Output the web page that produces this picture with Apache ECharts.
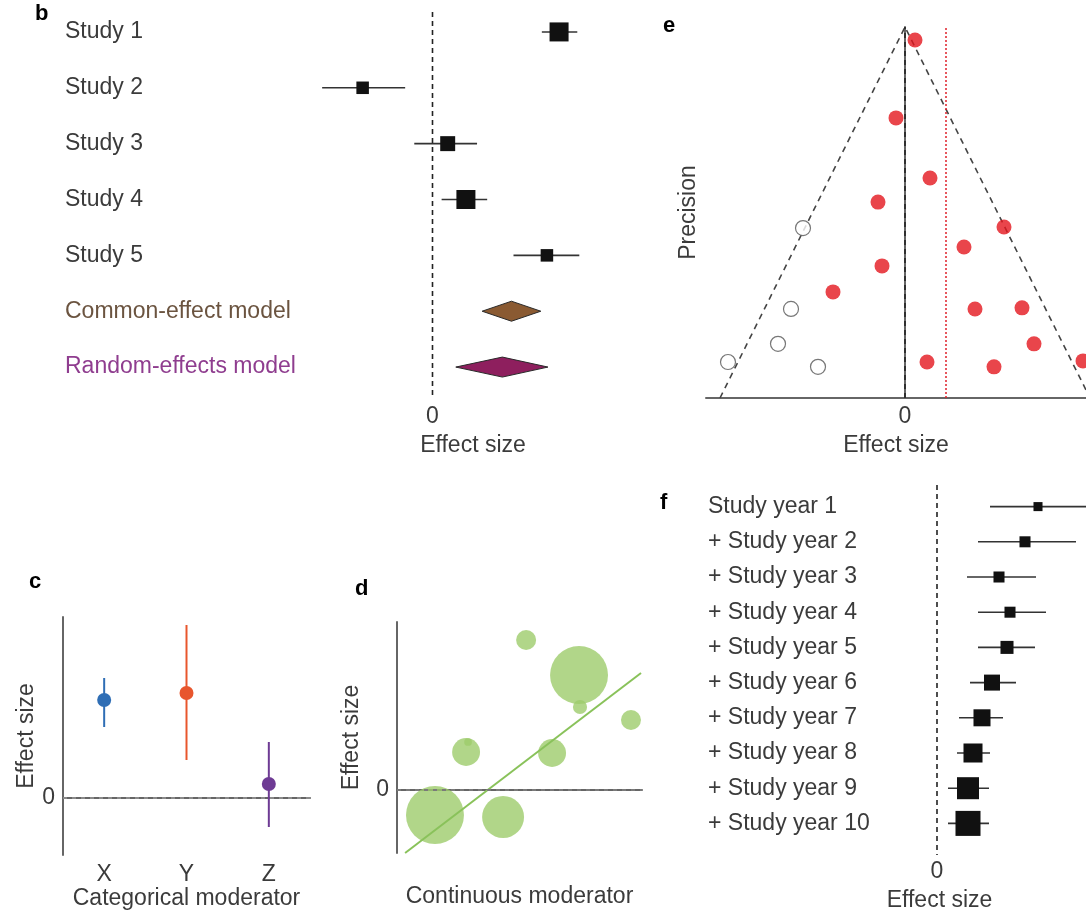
<!DOCTYPE html>
<html>
<head>
<meta charset="utf-8">
<script src="https://cdn.jsdelivr.net/npm/echarts@6/dist/echarts.min.js"></script>
<style>
html,body{margin:0;padding:0;background:#fff;}
#chart{width:1086px;height:913px;}
</style>
</head>
<body>
<div id="chart"></div>
<script>
// ---------- Panel b: forest plot ----------
const studiesB = ['Study 1','Study 2','Study 3','Study 4','Study 5','Common-effect model','Random-effects model'];
const estB = [1.25, -0.69, 0.15, 0.33, 1.13];
const loB = [1.08, -1.09, -0.18, 0.09, 0.80];
const hiB = [1.43, -0.27, 0.44, 0.54, 1.45];
const weightB = [22.6, 9.8, 14, 22.6, 9.8];
const modelEstB = [0.78, 0.69];
const modelLoB = [0.49, 0.23];
const modelHiB = [1.07, 1.14];

// ---------- Panel e: funnel plot ----------
const obsX = [0.10, -0.09, 0.25, -0.27, 0.99, 0.59, -0.23, -0.72, 0.70, 1.17, 1.29, 0.22, 0.89, 1.78];
const obsP = [9.65, 7.55, 5.93, 5.28, 4.61, 4.07, 3.56, 2.86, 2.40, 2.43, 1.46, 0.97, 0.84, 1.00];
const filledX = [-1.02, -1.14, -1.27, -1.77, -0.87];
const filledP = [4.58, 2.40, 1.46, 0.97, 0.84];
const funnelX = [-1.85, 0, 1.85];
const funnelP = [0, 10, 0];
const adjustedMean = 0.41;

// ---------- Panel c: categorical moderator ----------
const catsC = ['X','Y','Z'];
const estC = [1.96, 2.10, 0.28];
const loC = [1.42, 0.76, -0.58];
const hiC = [2.40, 3.46, 1.12];

// ---------- Panel d: continuous moderator ----------
const modD = [5.27, 7.43, 7.47, 9.55, 2.82, 2.90, 6.33, 1.55, 4.33];
const effD = [3.00, 2.30, 1.66, 1.40, 0.76, 0.96, 0.74, -0.50, -0.54];
const weightD = [4.0, 33.6, 2.0, 4.0, 7.8, 0.6, 7.8, 33.6, 17.6];
const fitX = [0.33, 9.96];
const fitY = [-1.26, 2.34];

// ---------- Panel f: cumulative forest ----------
const yearsF = ['Study year 1','+ Study year 2','+ Study year 3','+ Study year 4','+ Study year 5',
  '+ Study year 6','+ Study year 7','+ Study year 8','+ Study year 9','+ Study year 10'];
const estF = [1.01, 0.88, 0.62, 0.73, 0.70, 0.55, 0.45, 0.36, 0.31, 0.31];
const loF = [0.53, 0.41, 0.30, 0.41, 0.41, 0.33, 0.22, 0.20, 0.11, 0.11];
const hiF = [1.60, 1.39, 0.99, 1.09, 0.98, 0.79, 0.66, 0.53, 0.52, 0.52];
const weightF = [5.1, 7.6, 7.6, 7.6, 10.6, 16, 18.1, 22.6, 30.3, 39.1];

// ---------- styles ----------
const FONT = '"Liberation Sans", Arial, Helvetica, sans-serif';
const FS = 23;
const TXT = '#3b3b3b';
const AX = {lineStyle:{color:'#666666', width:2}};
const modelColors = ['#8a5a32', '#8e1f5e'];
const catColors = ['#2f6eb5', '#e8562d', '#6e3b94'];

const chart = echarts.init(document.getElementById('chart'), null, {renderer:'canvas'});

function forestItem(params, api) {
  const r = api.value(0), est = api.value(1), lo = api.value(2), hi = api.value(3), w = api.value(4);
  const c = api.coord([est, r]), l = api.coord([lo, r]), h = api.coord([hi, r]);
  const s = 4 * Math.sqrt(w);
  return {type:'group', children:[
    {type:'line', shape:{x1:l[0], y1:c[1], x2:h[0], y2:c[1]}, style:{stroke:'#333', lineWidth:1.6}},
    {type:'rect', shape:{x:c[0]-s/2, y:c[1]-s/2, width:s, height:s}, style:{fill:'#111'}}
  ]};
}
function diamondItem(params, api) {
  const r = api.value(0), est = api.value(1), lo = api.value(2), hi = api.value(3);
  const c = api.coord([est, r]), l = api.coord([lo, r]), h = api.coord([hi, r]);
  return {type:'polygon', shape:{points:[[l[0],c[1]],[c[0],c[1]-10],[h[0],c[1]],[c[0],c[1]+10]]},
    style:{fill:modelColors[params.dataIndex], stroke:'#2a2a2a', lineWidth:1}};
}
function zeroLine(extTop, extBottom) {
  return function(params, api) {
    const cs = params.coordSys;
    const x = api.coord([0, 0])[0];
    return {type:'line', shape:{x1:x, y1:cs.y + extTop, x2:x, y2:cs.y + cs.height + extBottom},
      style:{stroke:'#222', lineWidth:1.6, lineDash:[5,4]}};
  };
}
function errItem(params, api) {
  const i = api.value(0), est = api.value(1), lo = api.value(2), hi = api.value(3);
  const c = api.coord([i, est]), l = api.coord([i, lo]), h = api.coord([i, hi]);
  const col = catColors[params.dataIndex];
  return {type:'group', children:[
    {type:'line', shape:{x1:c[0], y1:l[1], x2:c[0], y2:h[1]}, style:{stroke:col, lineWidth:2}},
    {type:'circle', shape:{cx:c[0], cy:c[1], r:7}, style:{fill:col}}
  ]};
}

const rowLabel = (fmt) => ({
  align:'left', fontSize:FS, color:TXT, fontFamily:FONT, formatter: fmt,
  rich:{
    ce:{color:'#6b5440', fontSize:FS, fontFamily:FONT},
    re:{color:'#8f3d8f', fontSize:FS, fontFamily:FONT}
  }
});
const nameStyle = {fontSize:FS, color:TXT, fontFamily:FONT};
const zeroLabel = (margin) => ({customValues:[0], fontSize:FS, color:TXT, fontFamily:FONT, margin: margin, formatter: v => String(Math.round(v))});

const option = {
  backgroundColor:'#fff',
  animation:false,
  textStyle:{fontFamily:FONT},
  grid:[
    {left:311, top:4, width:324, height:391},
    {left:706, top:27, width:380, height:371},
    {left:63, top:617, width:247, height:238},
    {left:397, top:622, width:245, height:231},
    {left:793, top:489, width:293, height:353}
  ],
  xAxis:[
    {gridIndex:0, type:'value', min:-1.2, max:2.0, offset:3, axisLine:AX, axisTick:{show:false},
      splitLine:{show:false}, axisLabel:zeroLabel(7),
      name:'Effect size', nameLocation:'middle', nameGap:36, nameTextStyle:nameStyle},
    {gridIndex:1, type:'value', min:-1.99, max:1.81, axisLine:AX, axisTick:{show:false},
      splitLine:{show:false}, axisLabel:zeroLabel(7),
      name:'Effect size', nameLocation:'middle', nameGap:36, nameTextStyle:nameStyle},
    {gridIndex:2, type:'category', data:catsC, axisLine:AX, axisTick:{show:false},
      axisLabel:{fontSize:FS, color:TXT, fontFamily:FONT, margin:8},
      name:'Categorical moderator', nameLocation:'middle', nameGap:30, nameTextStyle:nameStyle},
    {gridIndex:3, type:'value', min:0, max:10, axisLine:AX, axisTick:{show:false},
      splitLine:{show:false}, axisLabel:{show:false},
      name:'Continuous moderator', nameLocation:'middle', nameGap:32, nameTextStyle:nameStyle},
    {gridIndex:4, type:'value', min:-1.44, max:1.49, offset:14, axisLine:AX, axisTick:{show:false},
      splitLine:{show:false}, axisLabel:zeroLabel(5),
      name:'Effect size', nameLocation:'middle', nameGap:34, nameTextStyle:nameStyle}
  ],
  yAxis:[
    {gridIndex:0, type:'category', data:studiesB, inverse:true, axisLine:{show:false}, axisTick:{show:false},
      axisLabel:Object.assign(rowLabel((v, i) => i === 5 ? '{ce|' + v + '}' : i === 6 ? '{re|' + v + '}' : v), {margin:246})},
    {gridIndex:1, type:'value', min:0, max:10, axisLine:Object.assign({show:true}, AX), axisTick:{show:false},
      splitLine:{show:false}, axisLabel:{show:false},
      name:'Precision', nameLocation:'middle', nameRotate:90, nameGap:6, nameTextStyle:nameStyle},
    {gridIndex:2, type:'value', min:-1.14, max:3.62, axisLine:Object.assign({show:true}, AX), axisTick:{show:false},
      splitLine:{show:false}, axisLabel:zeroLabel(8),
      name:'Effect size', nameLocation:'middle', nameRotate:90, nameGap:23, nameTextStyle:nameStyle},
    {gridIndex:3, type:'value', min:-1.26, max:3.36, axisLine:Object.assign({show:true}, AX), axisTick:{show:false},
      splitLine:{show:false}, axisLabel:zeroLabel(8),
      name:'Effect size', nameLocation:'middle', nameRotate:90, nameGap:34, nameTextStyle:nameStyle},
    {gridIndex:4, type:'category', data:yearsF, inverse:true, axisLine:{show:false}, axisTick:{show:false},
      axisLabel:Object.assign(rowLabel(v => v), {margin:85})}
  ],
  series:[
    // b
    {type:'custom', xAxisIndex:0, yAxisIndex:0, renderItem:zeroLine(8, 3), data:[[0, 0]], encode:{x:0, y:1}, silent:true, z:1},
    {type:'custom', xAxisIndex:0, yAxisIndex:0, renderItem:forestItem, encode:{y:0, x:[1,2,3]}, z:3,
      data: estB.map((e, i) => [i, e, loB[i], hiB[i], weightB[i]])},
    {type:'custom', xAxisIndex:0, yAxisIndex:0, renderItem:diamondItem, encode:{y:0, x:[1,2,3]}, z:3,
      data: modelEstB.map((e, i) => [5 + i, e, modelLoB[i], modelHiB[i]])},
    // e
    {type:'line', xAxisIndex:1, yAxisIndex:1, data:funnelX.map((x, i) => [x, funnelP[i]]), symbol:'none',
      lineStyle:{color:'#444', width:1.6, type:[6,5]}, silent:true, z:1},
    {type:'line', xAxisIndex:1, yAxisIndex:1, data:[[0, 0], [0, 10]], symbol:'none',
      lineStyle:{color:'#222', width:1.6, type:[5,4]}, silent:true, z:1},
    {type:'line', xAxisIndex:1, yAxisIndex:1, data:[[adjustedMean, 0], [adjustedMean, 10]], symbol:'none',
      lineStyle:{color:'#e0202a', width:1.5, type:[2,2]}, silent:true, z:1},
    {type:'scatter', xAxisIndex:1, yAxisIndex:1, data:obsX.map((x, i) => [x, obsP[i]]), symbolSize:15,
      itemStyle:{color:'#e3161e'}, z:3, clip:false},
    {type:'scatter', xAxisIndex:1, yAxisIndex:1, data:filledX.map((x, i) => [x, filledP[i]]), symbolSize:15,
      itemStyle:{color:'#ffffff', borderColor:'#555', borderWidth:1.2}, z:3},
    // c
    {type:'custom', xAxisIndex:2, yAxisIndex:2, renderItem:errItem, encode:{x:0, y:[1,2,3]}, z:3,
      data: estC.map((e, i) => [i, e, loC[i], hiC[i]]),
      markLine:{silent:true, symbol:'none', label:{show:false}, data:[{yAxis:0}],
        lineStyle:{color:'#8a8a8a', width:2, type:[4,5]}}},
    // d
    {type:'scatter', xAxisIndex:3, yAxisIndex:3, data:modD.map((x, i) => [x, effD[i], weightD[i]]),
      symbolSize: v => 10 * Math.sqrt(v[2]), itemStyle:{color:'#9dcc6c'}, z:2},
    {type:'line', xAxisIndex:3, yAxisIndex:3, data:fitX.map((x, i) => [x, fitY[i]]), symbol:'none',
      lineStyle:{color:'#89c25a', width:2}, silent:true, z:4},
    {type:'line', xAxisIndex:3, yAxisIndex:3, data:[[0, 0], [10, 0]], symbol:'none',
      lineStyle:{color:'#7a7a7a', width:2, type:[4,5]}, silent:true, z:5},
    // f
    {type:'custom', xAxisIndex:4, yAxisIndex:4, renderItem:zeroLine(-4, 14), data:[[0, 0]], encode:{x:0, y:1}, silent:true, z:1},
    {type:'custom', xAxisIndex:4, yAxisIndex:4, renderItem:forestItem, encode:{y:0, x:[1,2,3]}, z:3,
      data: estF.map((e, i) => [i, e, loF[i], hiF[i], weightF[i]])}
  ],
  graphic:[
    {type:'text', left:35, top:3, style:{text:'b', font:'bold 22px ' + FONT, fill:'#000'}},
    {type:'text', left:663, top:15, style:{text:'e', font:'bold 22px ' + FONT, fill:'#000'}},
    {type:'text', left:29, top:571, style:{text:'c', font:'bold 22px ' + FONT, fill:'#000'}},
    {type:'text', left:355, top:578, style:{text:'d', font:'bold 22px ' + FONT, fill:'#000'}},
    {type:'text', left:660, top:492, style:{text:'f', font:'bold 22px ' + FONT, fill:'#000'}}
  ]
};
chart.setOption(option);
</script>
</body>
</html>
